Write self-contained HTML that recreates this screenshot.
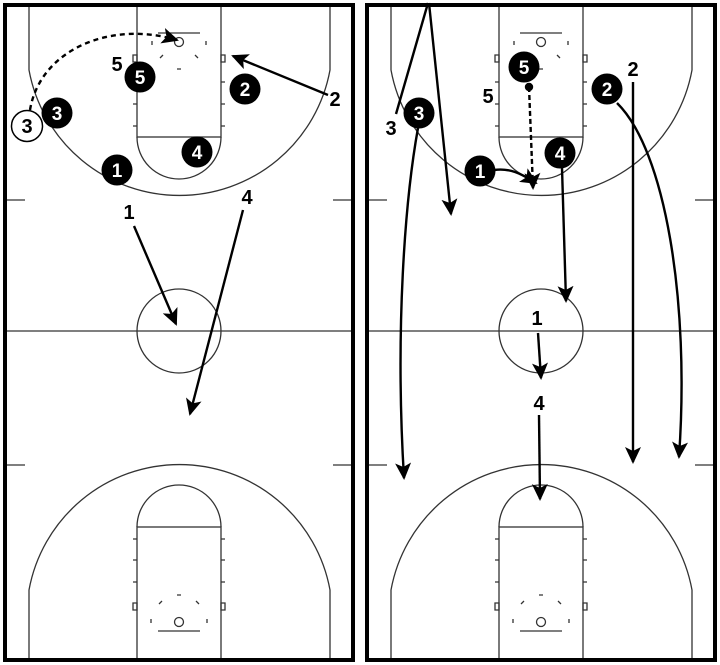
<!DOCTYPE html>
<html><head><style>html,body{margin:0;padding:0;background:#fff}svg{display:block}</style></head>
<body>
<svg width="720" height="665" viewBox="0 0 720 665" xmlns="http://www.w3.org/2000/svg" font-family="Liberation Sans, sans-serif" font-weight="bold">
<defs>
<marker id="ah" markerWidth="18" markerHeight="18" refX="15" refY="8" orient="auto" markerUnits="userSpaceOnUse">
<path d="M0,0 L17,8 L0,16 L4,8 Z" fill="#000"/></marker>
<g id="court" fill="none" stroke="#333" stroke-width="1.3">
<path d="M29,5 L29,70 A153,153 0 0 0 330,70 L330,5"/>
<rect x="137" y="5" width="84" height="132"/>
<path d="M137,137 A42,42 0 0 0 221,137"/>
<circle cx="179" cy="42" r="4.5"/>
<line x1="158" y1="33" x2="200" y2="33"/>
<path d="M133,55 h4 v7 h-4z M221,55 h4 v7 h-4z"/>
<path d="M133,82 h4 M133,104 h4 M133,126 h4 M221,82 h4 M221,104 h4 M221,126 h4"/>
<path d="M152,41 v4 M206,41 v4 M160,58 l3,-3 M198,58 l-3,-3 M177,69 h4" />
<line x1="5" y1="331" x2="353" y2="331"/>
<circle cx="179" cy="331" r="42"/>
<path d="M5,200 h20 M333,200 h20 M5,465 h20 M333,465 h20"/>
<path d="M29,660 L29,590 A153,153 0 0 1 330,590 L330,660"/>
<rect x="137" y="527" width="84" height="133"/>
<path d="M137,527 A42,42 0 0 1 221,527"/>
<circle cx="179" cy="622" r="4.5"/>
<line x1="158" y1="631" x2="200" y2="631"/>
<path d="M133,603 h4 v7 h-4z M221,603 h4 v7 h-4z"/>
<path d="M133,539 h4 M133,560 h4 M133,582 h4 M221,539 h4 M221,560 h4 M221,582 h4"/>
<path d="M151,619 v4 M207,619 v4 M159,604 l3,-3 M199,604 l-3,-3 M177,595 h4"/>
</g>
</defs>
<use href="#court"/>
<use href="#court" transform="translate(362,0)"/>
<rect x="5" y="5" width="348" height="655" fill="none" stroke="#000" stroke-width="4"/>
<rect x="367" y="5" width="348" height="655" fill="none" stroke="#000" stroke-width="4"/>

<g stroke="#000" stroke-width="2.4" fill="none">
<path d="M30,110 C40,50 110,20 177,40" stroke-dasharray="5,4" marker-end="url(#ah)"/>
<line x1="328" y1="95" x2="233" y2="56" marker-end="url(#ah)"/>
<line x1="134" y1="226" x2="176" y2="324" marker-end="url(#ah)"/>
<line x1="243" y1="210" x2="190" y2="414" marker-end="url(#ah)"/>
<line x1="428" y1="3" x2="396" y2="114"/>
<line x1="429" y1="3" x2="451" y2="214" marker-end="url(#ah)"/>
<path d="M418,128 C405,200 395,330 404,478" marker-end="url(#ah)"/>
<line x1="529" y1="87" x2="533" y2="188" stroke-dasharray="5,3" marker-end="url(#ah)"/>
<circle cx="529" cy="87" r="3" fill="#000"/>
<path d="M494,170 C510,168 520,173 536,183" marker-end="url(#ah)"/>
<line x1="562" y1="168" x2="566" y2="301" marker-end="url(#ah)"/>
<line x1="633" y1="82" x2="633" y2="462" marker-end="url(#ah)"/>
<path d="M617,103 C665,150 690,300 679,457" marker-end="url(#ah)"/>
<line x1="538" y1="333" x2="541" y2="378" marker-end="url(#ah)"/>
<line x1="539" y1="415" x2="540" y2="499" marker-end="url(#ah)"/>
</g>

<g font-size="19" text-anchor="middle">
<g fill="#000">
<circle cx="140" cy="77" r="15.5"/><circle cx="245" cy="89" r="15.5"/><circle cx="57" cy="113" r="15.5"/>
<circle cx="117" cy="170" r="15.5"/><circle cx="197" cy="152" r="15.5"/>
<circle cx="524" cy="67" r="15.5"/><circle cx="607" cy="89" r="15.5"/><circle cx="419" cy="113" r="15.5"/>
<circle cx="480" cy="171" r="15.5"/><circle cx="560" cy="153" r="15.5"/>
</g>
<circle cx="27" cy="126" r="15.5" fill="#fff" stroke="#000" stroke-width="1.5"/>
<g fill="#fff">
<text x="140" y="84">5</text><text x="245" y="96">2</text><text x="57" y="120">3</text>
<text x="117" y="177">1</text><text x="197" y="159">4</text>
<text x="524" y="74">5</text><text x="607" y="96">2</text><text x="419" y="120">3</text>
<text x="480" y="178">1</text><text x="560" y="160">4</text>
</g>
<g fill="#000" font-size="20">
<text x="27" y="133">3</text>
<text x="117" y="71">5</text><text x="335" y="106">2</text>
<text x="129" y="219">1</text><text x="247" y="204">4</text>
<text x="391" y="135">3</text><text x="488" y="103">5</text><text x="633" y="76">2</text>
<text x="537" y="325">1</text><text x="539" y="410">4</text>
</g>
</g>
</svg>
</body></html>
